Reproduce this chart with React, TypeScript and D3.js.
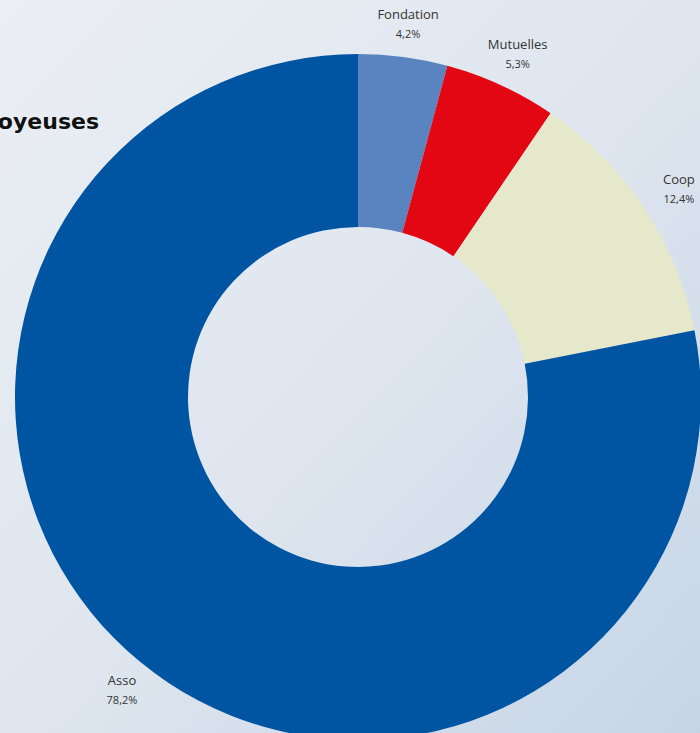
import React from "react";
import * as d3 from "d3";

const categories = ["Fondation", "Mutuelles", "Coop", "Asso"];
const values = [4.2, 5.3, 12.4, 78.2];
const valueLabels = ["4,2%", "5,3%", "12,4%", "78,2%"];
const colors = ["#5a84c0", "#e30613", "#e6e8cb", "#0055a2"];
const title = "Structures employeuses";

const W = 700;
const H = 733;

export default function App() {
  const cx = 358;
  const cy = 397;
  const outerR = 343;
  const innerR = 170;
  const pie = d3.pie<number>().sort(null).value((d) => d)(values);
  const arc = d3.arc<d3.PieArcDatum<number>>().innerRadius(innerR).outerRadius(outerR);
  const labelPos = (a: d3.PieArcDatum<number>, r: number) => {
    const m = (a.startAngle + a.endAngle) / 2;
    return [Math.sin(m) * r, -Math.cos(m) * r];
  };
  const labelRadii = [381, 383, 385, 372];
  const font = "'Open Sans', 'Noto Sans', 'DejaVu Sans', sans-serif";
  return (
    <div style={{ position: "fixed", left: 0, top: 0, width: W, height: H }}>
      <svg width={W} height={H} style={{ display: "block" }}>
        <defs>
          <linearGradient id="bg" x1="0" y1="0" x2="1" y2="1">
            <stop offset="0" stopColor="#ebeff4" />
            <stop offset="0.5" stopColor="#dfe6ef" />
            <stop offset="1" stopColor="#c6d5e6" />
          </linearGradient>
        </defs>
        <rect x={0} y={0} width={W} height={H} fill="url(#bg)" />
        <text
          x={99}
          y={129}
          textAnchor="end"
          fontFamily="'DejaVu Sans', sans-serif"
          fontWeight={700}
          fontSize={22}
          fill="#111"
        >
          {title}
        </text>
        <g transform={`translate(${cx},${cy})`}>
          {pie.map((a, i) => (
            <path key={categories[i]} d={arc(a) || ""} fill={colors[i]} />
          ))}
          {pie.map((a, i) => {
            const [x, y] = labelPos(a, labelRadii[i]);
            return (
              <text
                key={"l" + categories[i]}
                x={x}
                y={y}
                textAnchor="middle"
                fontFamily={font}
                fontSize={13}
                fill="#333"
              >
                <tspan x={x} dy={0}>{categories[i]}</tspan>
                <tspan x={x} dy={19} fontSize={11}>{valueLabels[i]}</tspan>
              </text>
            );
          })}
        </g>
      </svg>
    </div>
  );
}
